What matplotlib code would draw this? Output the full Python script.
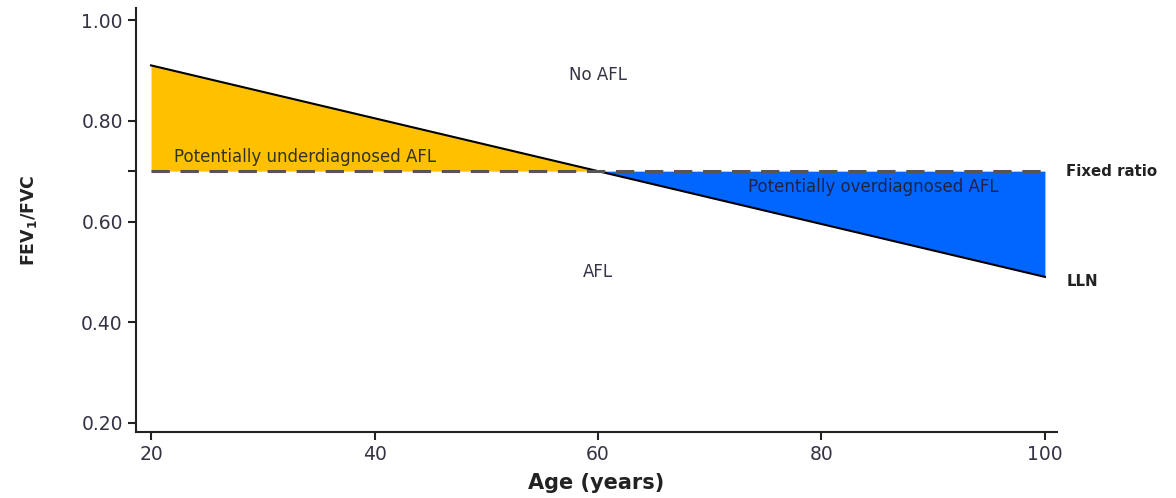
import numpy as np
import matplotlib
matplotlib.use("Agg")
import matplotlib.pyplot as plt

""" FEV1/FVC fixed ratio vs LLN across age """

age = [20, 100]
lln = [0.91, 0.49]
fixed_ratio = 0.70
x_ticks = [20, 40, 60, 80, 100]
y_ticks = [0.20, 0.40, 0.60, 0.70, 0.80, 1.00]
y_tick_labels = ["0.20", "0.40", "0.60", "", "0.80", "1.00"]


def main():
    plt.rcParams['font.family'] = ['DejaVu Sans']

    fig = plt.figure(figsize=(11.76, 4.98), dpi=100)
    ax = fig.add_axes([0.1156, 0.1325, 0.7834, 0.8515])

    x = np.array(age, dtype=float)
    y = np.array(lln)
    fr = np.full_like(x, fixed_ratio)

    # finer grid so the fills meet at the crossing point
    xx = np.linspace(x[0], x[1], 801)
    yy = np.interp(xx, x, y)
    ax.fill_between(xx, fixed_ratio, yy, where=yy >= fixed_ratio,
                    color='#FFC000', interpolate=True, lw=0)
    ax.fill_between(xx, fixed_ratio, yy, where=yy <= fixed_ratio,
                    color='#0066FF', interpolate=True, lw=0)

    ax.plot(x, y, color='black', lw=1.5)
    ax.plot(x, fr, color='#555555', lw=2.2, ls=(0, (6, 3.5)))

    ax.set_xlim(18.65, 101.1)
    ax.set_ylim(0.182, 1.024)
    ax.set_xticks(x_ticks)
    ax.set_yticks(y_ticks)
    ax.set_yticklabels(y_tick_labels)

    for s in ['top', 'right']:
        ax.spines[s].set_visible(False)
    for s in ['left', 'bottom']:
        ax.spines[s].set_linewidth(1.5)
        ax.spines[s].set_color('#222222')
    ax.tick_params(width=1.5, length=6, labelsize=13.5, colors='#222222',
                   labelcolor='#333344')

    ax.set_xlabel("Age (years)", fontsize=15, fontweight='bold', color='#222222',
                  labelpad=6)
    ax.set_ylabel(r"FEV$_\mathbf{1}$/FVC", fontsize=12.5, fontweight='bold',
                  color='#222222', labelpad=30)

    tc = '#333344'
    fs = 12
    ax.text(60, 0.891, "No AFL", ha='center', va='center', fontsize=fs, color=tc)
    ax.text(60, 0.50, "AFL", ha='center', va='center', fontsize=fs, color=tc)
    ax.text(22.1, 0.728, "Potentially underdiagnosed AFL", ha='left', va='center',
            fontsize=fs, color='#333322')
    ax.text(84.6, 0.668, "Potentially overdiagnosed AFL", ha='center', va='center',
            fontsize=fs, color='#222244')
    ax.text(101.9, 0.70, "Fixed ratio", ha='left', va='center', fontsize=10.8,
            fontweight='bold', color='#222222', clip_on=False)
    ax.text(101.9, 0.48, "LLN", ha='left', va='center', fontsize=10.8,
            fontweight='bold', color='#222222', clip_on=False)

    fig.savefig("out.png", dpi=100)


if __name__ == "__main__":
    main()
